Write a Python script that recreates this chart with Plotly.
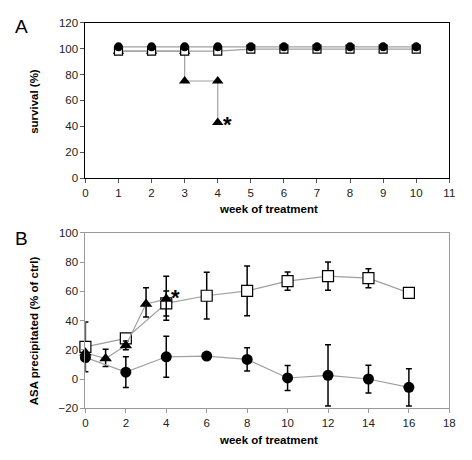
import plotly.graph_objects as go

# Panel A: survival
weeks_a = [1, 2, 3, 4, 5, 6, 7, 8, 9, 10]
surv_circle = [101.3] * 10
surv_square = [98, 98, 98, 98, 99.5, 99.5, 99.5, 99.5, 99.5, 99.5]
tri_weeks_a = [1, 2, 3, 3, 4, 4]
surv_tri = [98, 98, 98, 75, 75, 43]

# Panel B: ASA precipitated
weeks_sq = [0, 2, 4, 6, 8, 10, 12, 14, 16]
asa_sq = [22, 27.8, 51.8, 57, 60.3, 67, 70.4, 69, 59]
asa_sq_up = [17, 0, 18.6, 16, 17, 6.3, 9.7, 6.5, 0]
asa_sq_dn = [17, 0, 11.5, 16, 17, 6.3, 9.7, 6.5, 0]

weeks_tri = [0, 1, 2, 3, 4]
asa_tri = [18, 14, 23, 51.4, 54.7]
asa_tri_up = [0, 6.4, 3, 11, 5.6]
asa_tri_dn = [0, 5.5, 3, 9, 11.6]

weeks_ci = [0, 2, 4, 6, 8, 10, 12, 14, 16]
asa_ci = [14.8, 4.7, 15.2, 15.7, 13.4, 0.7, 2.5, 0, -5.7]
asa_ci_err = [3, 10.5, 14, 2, 8, 8.5, 21, 9.5, 12.7]

LINE = "#a0a0a0"
FONT = "Liberation Sans, Arial, sans-serif"

fig = go.Figure()

# ---- Panel A ----
fig.add_trace(go.Scatter(x=tri_weeks_a, y=surv_tri, mode="lines+markers",
                         line=dict(color=LINE, width=1.2), cliponaxis=False,
                         marker=dict(symbol="triangle-up", size=10, color="black"),
                         xaxis="x", yaxis="y", showlegend=False))
fig.add_trace(go.Scatter(x=weeks_a, y=surv_square, mode="lines+markers",
                         line=dict(color=LINE, width=1.2), cliponaxis=False,
                         marker=dict(symbol="square", size=8, color="white",
                                     line=dict(color="black", width=1.2)),
                         xaxis="x", yaxis="y", showlegend=False))
fig.add_trace(go.Scatter(x=weeks_a, y=surv_circle, mode="lines+markers",
                         line=dict(color=LINE, width=1.2), cliponaxis=False,
                         marker=dict(symbol="circle", size=9, color="black"),
                         xaxis="x", yaxis="y", showlegend=False))

# ---- Panel B ----
fig.add_trace(go.Scatter(x=weeks_sq, y=asa_sq, mode="lines+markers",
                         line=dict(color=LINE, width=1.2), cliponaxis=False,
                         marker=dict(symbol="square", size=11, color="white",
                                     line=dict(color="black", width=1.2)),
                         error_y=dict(type="data", array=asa_sq_up, arrayminus=asa_sq_dn,
                                      symmetric=False, color="black", thickness=1.5, width=3),
                         xaxis="x2", yaxis="y2", showlegend=False))
fig.add_trace(go.Scatter(x=weeks_tri, y=asa_tri, mode="lines+markers",
                         line=dict(color=LINE, width=1.2), cliponaxis=False,
                         marker=dict(symbol="triangle-up", size=11, color="black"),
                         error_y=dict(type="data", array=asa_tri_up, arrayminus=asa_tri_dn,
                                      symmetric=False, color="black", thickness=1.5, width=3),
                         xaxis="x2", yaxis="y2", showlegend=False))
fig.add_trace(go.Scatter(x=weeks_ci, y=asa_ci, mode="lines+markers",
                         line=dict(color=LINE, width=1.2), cliponaxis=False,
                         marker=dict(symbol="circle", size=11, color="black"),
                         error_y=dict(type="data", array=asa_ci_err,
                                      color="black", thickness=1.5, width=3),
                         xaxis="x2", yaxis="y2", showlegend=False))

W, H = 472, 460
xd = [84 / W, 455 / W]
tickfont = dict(family=FONT, size=11.5, color="#222")

fig.update_layout(
    width=W, height=H,
    margin=dict(l=0, r=0, t=0, b=0),
    paper_bgcolor="white", plot_bgcolor="white",
    font=dict(family=FONT, color="black"),
    xaxis=dict(domain=xd, range=[0, 11], tickvals=list(range(0, 12)),
               showgrid=False, zeroline=False, showline=True, linecolor="black",
               linewidth=1, mirror=True, ticks="outside", ticklen=4, tickcolor="#555",
               tickfont=tickfont, anchor="y"),
    yaxis=dict(domain=[1 - 177 / H, 1 - 17 / H], range=[0, 120],
               tickvals=[0, 20, 40, 60, 80, 100, 120],
               showgrid=False, zeroline=False, showline=True, linecolor="black",
               linewidth=1, mirror=True, ticks="outside", ticklen=4, tickcolor="#555",
               tickfont=tickfont, anchor="x"),
    xaxis2=dict(domain=xd, range=[0, 18], tickvals=list(range(0, 19, 2)),
                showgrid=False, zeroline=False, showline=True, linecolor="#999",
                linewidth=1, mirror=True, ticks="outside", ticklen=4, tickcolor="#999",
                tickfont=tickfont, anchor="y2"),
    yaxis2=dict(domain=[1 - 413 / H, 1 - 233 / H], range=[-20, 100],
                tickvals=[-20, 0, 20, 40, 60, 80, 100],
                showgrid=False, zeroline=False, showline=True, linecolor="#999",
                linewidth=1, mirror=True, ticks="outside", ticklen=4, tickcolor="#999",
                tickfont=tickfont, anchor="x2"),
)

def ann(x, y, text, size=11.5, bold=False, angle=0, xanchor="center", yanchor="middle"):
    t = f"<b>{text}</b>" if bold else text
    fig.add_annotation(x=x / W, y=1 - y / H, xref="paper", yref="paper", text=t,
                       showarrow=False, textangle=angle, xanchor=xanchor, yanchor=yanchor,
                       font=dict(family=FONT, size=size, color="black"))

ann(18.5, 21.5, "A", size=19)
ann(18.5, 238.5, "B", size=19)
ann(271, 208, "week of treatment", bold=True)
ann(271, 446, "week of treatment", bold=True)
ann(31.5, 97.5, "survival (%)", bold=True, angle=-90)
ann(31.5, 333, "ASA precipitated (% of ctrl)", bold=True, angle=-90)
ann(229, 122, "*", size=22, bold=True)
ann(176, 299, "*", size=22, bold=True)

fig.write_html("out.html", config={"displayModeBar": False},
               post_script="document.body.style.margin='0';document.body.style.overflow='hidden';")
